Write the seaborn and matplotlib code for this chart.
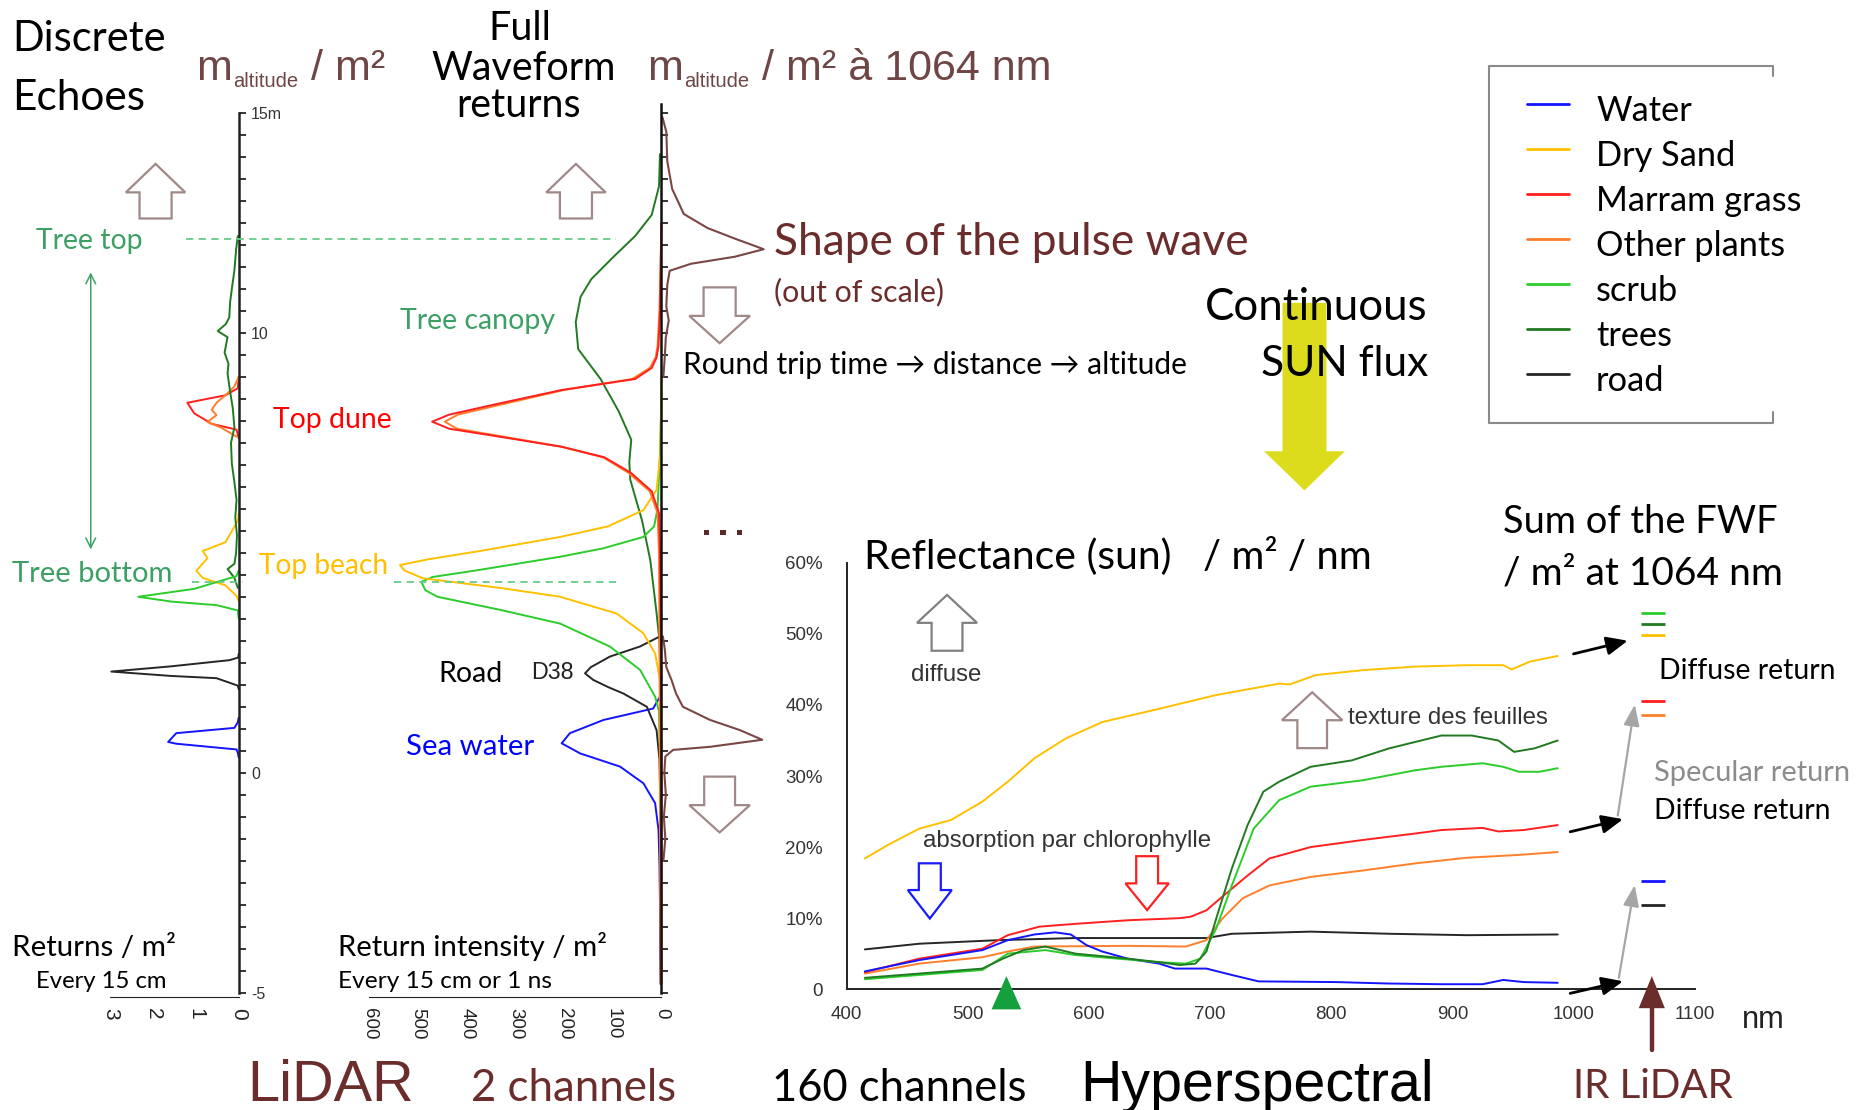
import numpy as np
import matplotlib
matplotlib.use("Agg")
import matplotlib.pyplot as plt
import seaborn as sns
from matplotlib.patches import Polygon, FancyArrowPatch, Rectangle
from matplotlib.lines import Line2D
from matplotlib.ticker import FixedLocator

# ---------------------------------------------------------------- classes
classes = ["Water", "Dry Sand", "Marram grass", "Other plants", "scrub", "trees", "road"]
class_colors = ["#1414ff", "#ffc000", "#ff1f1f", "#ff7f2a", "#2ccc2c", "#217a21", "#262626"]

# ------------------------------------------- discrete echoes (returns / m2)
de_water_alt = [1.25, 1.15, 1.02, 0.9, 0.7, 0.66, 0.53, 0.45, 0.35]
de_water_val = [0.0, 0.02, 0.1, 1.46, 1.65, 1.46, 0.05, 0.02, 0.0]
de_sand_alt = [5.9, 5.73, 5.24, 5.04, 4.88, 4.59, 4.43, 4.26, 4.02, 3.9]
de_sand_val = [0.0, 0.02, 0.31, 0.84, 0.73, 0.99, 0.84, 0.31, 0.05, 0.0]
de_marram_alt = [9.0, 8.74, 8.58, 8.41, 8.17, 7.93, 7.8, 7.6]
de_marram_val = [0.0, 0.02, 0.31, 1.2, 1.04, 0.63, 0.05, 0.0]
de_other_alt = [9.0, 8.78, 8.58, 8.41, 8.25, 8.13, 7.97, 7.85, 7.64]
de_other_val = [0.0, 0.1, 0.31, 0.52, 0.63, 0.52, 0.73, 0.42, 0.05]
de_scrub_alt = [4.6, 4.47, 4.18, 4.0, 3.89, 3.81, 3.69, 3.5]
de_scrub_val = [0.0, 0.05, 1.04, 2.35, 1.57, 0.52, 0.02, 0.0]
de_trees_alt = [12.2, 11.9, 11.42, 11.0, 10.7, 10.35, 10.2, 10.04, 9.9, 9.7, 9.55, 9.3,
                9.07, 8.66, 8.3, 7.85, 7.5, 7.03, 6.6, 6.2, 5.8, 5.4, 5.0, 4.75, 4.63, 4.43, 4.2]
de_trees_val = [0.02, 0.06, 0.1, 0.16, 0.2, 0.22, 0.3, 0.49, 0.26, 0.3, 0.33, 0.24,
                0.26, 0.2, 0.14, 0.1, 0.18, 0.16, 0.1, 0.05, 0.08, 0.04, 0.06, 0.1, 0.26, 0.1, 0.02]
de_road_alt = [2.7, 2.62, 2.56, 2.42, 2.30, 2.2, 2.15, 1.98, 1.9]
de_road_val = [0.0, 0.01, 0.21, 1.57, 2.98, 1.57, 0.52, 0.02, 0.0]

# ------------------------------------- full waveform (intensity / m2)
fw_water_alt = [2.2, 1.73, 1.46, 1.2, 0.9, 0.67, 0.44, 0.14, -0.24, -0.69, -1.3, -2.1, -3.0, -4.0, -4.8]
fw_water_val = [0, 3, 17, 119, 188, 205, 167, 85, 37, 13, 6, 4, 3, 3, 2]
fw_sand_alt = [9.0, 7.26, 6.43, 5.97, 5.6, 5.36, 5.04, 4.85, 4.72, 4.6, 4.42, 4.2, 4.0,
               3.62, 3.17, 2.71, 2.11, 1.0, -4.8]
fw_sand_val = [0, 2, 10, 37, 110, 208, 373, 480, 537, 528, 490, 330, 208, 92, 37, 13, 3, 1, 0]
fw_marram_alt = [12.5, 10.5, 9.7, 9.44, 9.2, 8.95, 8.7, 8.38, 8.14, 7.98, 7.82, 7.65, 7.41,
                 7.17, 6.82, 6.4, 5.9, 5.0, 3.0, 0.0, -4.8]
fw_marram_val = [0, 3, 6, 10, 20, 54, 205, 339, 436, 471, 436, 339, 205, 117, 63, 20, 5, 3, 1, 0, 0]
fw_other_alt = [12.5, 10.5, 9.7, 9.44, 9.2, 8.95, 8.7, 8.38, 8.14, 7.98, 7.82, 7.65, 7.41,
                7.17, 6.82, 6.4, 5.9, 5.0, 3.0, 0.0, -4.8]
fw_other_val = [0, 4, 8, 12, 24, 60, 200, 325, 418, 445, 420, 330, 205, 120, 68, 24, 8, 5, 4, 3, 2]
fw_scrub_alt = [8.5, 7.26, 6.0, 5.6, 5.36, 5.1, 4.91, 4.6, 4.45, 4.34, 4.15, 4.0, 3.7, 3.39,
                2.87, 2.34, 1.73, 1.4, 0.3, -4.8]
fw_scrub_val = [0, 3, 8, 15, 37, 120, 208, 380, 470, 493, 485, 460, 330, 208, 106, 44, 13, 5, 3, 0]
fw_trees_alt = [14.06, 13.33, 12.68, 12.2, 11.71, 11.22, 10.82, 10.25, 9.63, 8.95, 8.22, 7.57,
                7.06, 6.66, 5.74, 4.84, 3.63, 3.0, 2.0, 0.0, -2.5, -4.8]
fw_trees_val = [3, 5, 20, 54, 100, 144, 166, 176, 171, 125, 88, 62, 66, 64, 40, 23, 10, 4, 2, 1, 1, 1]
fw_road_alt = [3.6, 3.1, 2.87, 2.64, 2.4, 2.26, 2.11, 1.95, 1.8, 1.5, 0.97, 0.3, -1.0, -4.8]
fw_road_val = [0, 3, 44, 106, 145, 157, 140, 110, 78, 30, 10, 4, 2, 1]

# emitted pulse shape (out of scale), drawn on the other side of the axis
pulse_top_alt = [14.9, 14.57, 13.9, 13.27, 12.7, 12.38, 12.14, 11.9, 11.73, 11.57, 11.41,
                 11.09, 10.6, 10.28, 9.9, 9.47, 9.0]
pulse_top_val = [-2, -10, -12, -22, -46, -95, -151, -210, -151, -61, -17, -12, -10, -15, -9, -7, -4]
pulse_low_alt = [3.1, 2.8, 2.4, 2.1, 1.8, 1.5, 1.2, 0.97, 0.75, 0.59, 0.52, 0.37, 0.0,
                 -0.5, -1.0, -1.5, -2.0]
pulse_low_val = [-3, -7, -10, -21, -30, -44, -100, -161, -207, -100, -24, -8, -6, -9, -5, -8, -4]

# ------------------------------------------ hyperspectral reflectance (%)
wl_water = [415, 460, 512, 533, 555, 572, 585, 598, 611, 632, 658, 671, 697, 718, 740, 804,
            847, 891, 925, 942, 959, 987]
rf_water = [2.5, 4.1, 5.5, 6.9, 7.7, 8.0, 7.7, 6.2, 5.3, 4.3, 3.6, 2.9, 2.9, 2.0, 1.1, 1.0,
            0.8, 0.7, 0.7, 1.3, 1.0, 0.9]
wl_sand = [415, 434, 460, 486, 512, 533, 555, 581, 611, 654, 705, 757, 766, 787, 826, 869,
           912, 942, 949, 964, 987]
rf_sand = [18.4, 20.3, 22.6, 23.8, 26.4, 29.2, 32.5, 35.3, 37.6, 39.3, 41.4, 43.0, 42.9,
           44.2, 44.9, 45.4, 45.6, 45.6, 45.0, 46.1, 46.9]
wl_marram = [415, 460, 512, 533, 559, 589, 632, 675, 684, 697, 710, 731, 749, 783, 826, 869,
             891, 925, 938, 959, 987]
rf_marram = [2.4, 4.3, 5.7, 7.6, 8.8, 9.2, 9.7, 10.0, 10.2, 11.1, 13.0, 16.0, 18.4, 20.0,
             21.0, 21.9, 22.4, 22.7, 22.2, 22.4, 23.1]
wl_other = [415, 460, 512, 533, 555, 632, 680, 697, 710, 727, 749, 783, 826, 869, 912, 955, 987]
rf_other = [2.2, 3.6, 4.5, 5.3, 6.0, 6.1, 6.0, 6.9, 9.9, 12.8, 14.6, 15.8, 16.7, 17.7, 18.5,
            18.9, 19.3]
wl_scrub = [415, 512, 533, 564, 589, 658, 680, 692, 705, 718, 736, 757, 783, 826, 869, 891,
            925, 942, 955, 972, 987]
rf_scrub = [1.4, 2.7, 5.0, 5.5, 4.8, 3.8, 3.6, 4.3, 8.5, 14.6, 22.6, 26.6, 28.5, 29.4, 30.8,
            31.3, 31.8, 31.3, 30.6, 30.6, 31.1]
wl_trees = [415, 460, 512, 529, 546, 564, 589, 632, 658, 675, 688, 697, 705, 718, 731, 744,
            757, 783, 817, 848, 891, 916, 938, 951, 968, 987]
rf_trees = [1.6, 2.2, 2.9, 4.3, 5.5, 6.0, 5.0, 4.3, 3.8, 3.4, 3.6, 5.3, 9.9, 17.0, 23.1,
            27.8, 29.2, 31.3, 32.2, 33.9, 35.7, 35.7, 35.0, 33.4, 33.9, 35.0]
wl_road = [415, 460, 525, 589, 697, 718, 783, 848, 912, 987]
rf_road = [5.6, 6.4, 6.9, 7.2, 7.2, 7.8, 8.1, 7.8, 7.6, 7.7]

# summed full waveform at 1064 nm, on the reflectance scale
fwf_sum_classes = ["scrub", "trees", "Dry Sand", "Marram grass", "Other plants", "Water", "road"]
fwf_sum_levels = [52.9, 51.4, 49.8, 40.5, 38.6, 15.2, 11.9]

color_of = dict(zip(classes, class_colors))
de_series = [("Water", de_water_val, de_water_alt), ("Dry Sand", de_sand_val, de_sand_alt),
             ("Marram grass", de_marram_val, de_marram_alt), ("Other plants", de_other_val, de_other_alt),
             ("trees", de_trees_val, de_trees_alt), ("scrub", de_scrub_val, de_scrub_alt),
             ("road", de_road_val, de_road_alt)]
fw_series = [("trees", fw_trees_val, fw_trees_alt), ("Water", fw_water_val, fw_water_alt),
             ("road", fw_road_val, fw_road_alt), ("scrub", fw_scrub_val, fw_scrub_alt),
             ("Dry Sand", fw_sand_val, fw_sand_alt), ("Other plants", fw_other_val, fw_other_alt),
             ("Marram grass", fw_marram_val, fw_marram_alt)]
rf_series = [("Dry Sand", wl_sand, rf_sand), ("road", wl_road, rf_road),
             ("Other plants", wl_other, rf_other), ("Marram grass", wl_marram, rf_marram),
             ("Water", wl_water, rf_water), ("scrub", wl_scrub, rf_scrub),
             ("trees", wl_trees, rf_trees)]

# ---------------------------------------------------------------- styling
sns.set_style("white")
CAL = ["Lato", "DejaVu Sans"]
ARI = ["Liberation Sans", "DejaVu Sans"]
plt.rcParams["font.family"] = CAL

BROWN = "#6b2c2c"
BROWN_SOFT = "#6f4646"
GREEN_TXT = "#3ca064"
ARROW_BROWN = "#a08888"

fig = plt.figure(figsize=(18.62, 11.10), dpi=100)
fig.patch.set_facecolor("white")
renderer = fig.canvas.get_renderer()

# layout grid: 1568 units across the figure width
K = 1862 / 1568
FW, FH = 1862, 1110


def fx(x):
    return x * K / FW


def fy(y):
    return 1 - y * K / FH


def panel(x0, x1, y0, y1):
    ax = fig.add_axes([fx(x0), fy(y1), (x1 - x0) * K / FW, (y1 - y0) * K / FH])
    ax.set_facecolor("none")
    return ax


def label(s, x0, x1, yc, color="black", fam=CAL, size=None, **kw):
    t = fig.text(fx(x0), fy(yc), s, color=color, family=fam, fontsize=size or 20,
                 ha="left", va="baseline", **kw)
    if size is None:
        w = t.get_window_extent(renderer).width
        size = 20 * (x1 - x0) * K / w
        t.set_fontsize(size)
    em = size * 100 / 72 / K
    t.set_y(fy(yc + 0.36 * em))
    return t


def block_arrow(cx, top, bot, head_w, shaft_w, head_h, color, up=True, lw=1.6,
                fill=False):
    if up:
        pts = [(cx, top), (cx + head_w / 2, top + head_h), (cx + shaft_w / 2, top + head_h),
               (cx + shaft_w / 2, bot), (cx - shaft_w / 2, bot),
               (cx - shaft_w / 2, top + head_h), (cx - head_w / 2, top + head_h)]
    else:
        pts = [(cx, bot), (cx + head_w / 2, bot - head_h), (cx + shaft_w / 2, bot - head_h),
               (cx + shaft_w / 2, top), (cx - shaft_w / 2, top),
               (cx - shaft_w / 2, bot - head_h), (cx - head_w / 2, bot - head_h)]
    fig.add_artist(Polygon([(fx(x), fy(y)) for x, y in pts], closed=True,
                           facecolor=color if fill else "white",
                           edgecolor="none" if fill else color, lw=lw))


def fline(xs, ys, **kw):
    fig.add_artist(Line2D([fx(x) for x in xs], [fy(y) for y in ys], **kw))


def farrow(x0, y0, x1, y1, **kw):
    fig.add_artist(FancyArrowPatch((fx(x0), fy(y0)), (fx(x1), fy(y1)), **kw))


def rotated_tick_labels(ax, values, size):
    ax.set_xticks(values)
    ax.set_xticklabels([f"{v:g}" for v in values], rotation=-90, family=ARI,
                       fontsize=size, color="#222222")


# altitude axes share one vertical scale (-5.2 .. 15.3 m)
ALT_TOP, ALT_BOT = 83.9, 843.4
LW = 1.4

# ------------------------------------------------------ discrete echoes
ax_de = panel(93, 201, ALT_TOP, ALT_BOT)
for name, val, alt in de_series:
    sns.lineplot(x=val, y=alt, sort=False, estimator=None, color=color_of[name],
                 lw=LW, ax=ax_de)
ax_de.set_xlim(3, 0)
ax_de.set_ylim(-5.2, 15.3)
ax_de.set_xlabel("")
ax_de.set_ylabel("")
for s in ["top", "left"]:
    ax_de.spines[s].set_visible(False)
ax_de.spines["right"].set_bounds(-5, 15)
ax_de.spines["right"].set_linewidth(1.8)
ax_de.spines["right"].set_color("#222222")
ax_de.spines["bottom"].set_position(("data", -5.1))
ax_de.spines["bottom"].set_bounds(0, 3)
ax_de.spines["bottom"].set_color("#222222")
ax_de.yaxis.tick_right()
ax_de.set_yticks([-5, 0, 5, 10, 15])
ax_de.set_yticklabels(["-5", "0", "", "10", "15m"], family=ARI)
ax_de.yaxis.set_minor_locator(FixedLocator(np.arange(-5, 15.01, 0.5)))
ax_de.tick_params(axis="y", which="both", direction="out", length=5, width=1.3,
                  labelsize=11.5, pad=4, labelcolor="#333333")
ax_de.xaxis.set_minor_locator(FixedLocator(np.arange(0, 3.01, 0.5)))
ax_de.tick_params(axis="x", which="both", direction="out", length=5, width=1.2, pad=3)
rotated_tick_labels(ax_de, [0, 1, 2, 3], 15)

# ------------------------------------------------------ full waveform
ax_fw = panel(311, 645.15, ALT_TOP, ALT_BOT)
for name, val, alt in fw_series:
    sns.lineplot(x=val, y=alt, sort=False, estimator=None, color=color_of[name],
                 lw=LW, ax=ax_fw)
for val, alt in [(pulse_top_val, pulse_top_alt), (pulse_low_val, pulse_low_alt)]:
    sns.lineplot(x=val, y=alt, sort=False, estimator=None, color="#7a4646",
                 lw=1.5, ax=ax_fw)
ax_fw.set_xlim(600, -215)
ax_fw.set_ylim(-5.2, 15.3)
ax_fw.set_xlabel("")
ax_fw.set_ylabel("")
for s in ["top", "left"]:
    ax_fw.spines[s].set_visible(False)
ax_fw.spines["right"].set_position(("data", 0))
ax_fw.spines["right"].set_bounds(-5, 15.2)
ax_fw.spines["right"].set_linewidth(1.8)
ax_fw.spines["right"].set_color("#111111")
ax_fw.spines["bottom"].set_position(("data", -5.1))
ax_fw.spines["bottom"].set_bounds(0, 600)
ax_fw.spines["bottom"].set_color("#222222")
ax_fw.yaxis.tick_right()
ax_fw.yaxis.set_major_locator(FixedLocator(np.arange(-5, 15.01, 0.5)))
ax_fw.tick_params(axis="y", which="both", direction="out", length=5, width=1.3,
                  labelright=False)
ax_fw.xaxis.set_minor_locator(FixedLocator(np.arange(0, 601, 20)))
ax_fw.tick_params(axis="x", which="both", direction="out", length=5, width=1.2, pad=3)
rotated_tick_labels(ax_fw, list(range(0, 601, 100)), 13.5)

# ------------------------------------------------------ reflectance
ax_rf = panel(713, 1427, 474, 833)
for name, wl, rf in rf_series:
    sns.lineplot(x=wl, y=rf, sort=False, estimator=None, color=color_of[name],
                 lw=LW, ax=ax_rf)
ax_rf.set_xlim(400, 1100)
ax_rf.set_ylim(0, 60)
ax_rf.set_xlabel("")
ax_rf.set_ylabel("")
for s in ["top", "right"]:
    ax_rf.spines[s].set_visible(False)
for s in ["left", "bottom"]:
    ax_rf.spines[s].set_color("#222222")
    ax_rf.spines[s].set_linewidth(1.4)
ax_rf.set_yticks(np.arange(0, 61, 10))
ax_rf.set_yticklabels(["0"] + [f"{v}%" for v in range(10, 61, 10)], family=ARI)
ax_rf.yaxis.set_minor_locator(FixedLocator(np.arange(0, 61, 2)))
ax_rf.set_xticks(np.arange(400, 1101, 100))
ax_rf.set_xticklabels([str(v) for v in range(400, 1101, 100)], family=ARI)
ax_rf.xaxis.set_minor_locator(FixedLocator(np.arange(400, 1101, 20)))
ax_rf.tick_params(axis="y", which="both", direction="out", length=5, width=1.2,
                  labelsize=13.5, pad=12, labelcolor="#333333")
ax_rf.tick_params(axis="x", which="both", direction="out", length=5, width=1.2,
                  labelsize=13.5, pad=7, labelcolor="#333333")
ax_rf.hlines(fwf_sum_levels, 1056, 1076, colors=[color_of[c] for c in fwf_sum_classes],
             lw=2, clip_on=False)

# ------------------------------------------------------ titles and notes
label("Discrete", 10, 140, 30)
label("Echoes", 10, 122, 80)
wave = label("Waveform", 363.6, 519.5, 55.4)
title_size = wave.get_fontsize()
label("Full", 411, 465, 22, size=title_size)
label("returns", 384.6, 498, 86.5, size=title_size)

for x_m, x_sub, x_rest, rest in [(165, 196, 262, "/ m²"), (545, 576, 642, "/ m² à 1064 nm")]:
    fig.text(fx(x_m), fy(67), "m", family=ARI, fontsize=31, color=BROWN_SOFT, va="baseline")
    fig.text(fx(x_sub), fy(73), "altitude", family=ARI, fontsize=14.5, color=BROWN_SOFT,
             va="baseline")
    fig.text(fx(x_rest), fy(67), rest, family=ARI, fontsize=31, color=BROWN_SOFT,
             va="baseline")

label("Tree top", 30, 120, 201, GREEN_TXT)
label("Tree bottom", 10, 145, 481, GREEN_TXT)
label("Top dune", 230, 330, 352, "#ff0000")
label("Tree canopy", 337, 468, 268, GREEN_TXT)
label("Top beach", 218, 327, 475, "#ffc000")
label("Road", 369, 423, 566)
label("D38", 447, 483, 565, "#222222", ARI)
label("Sea water", 342, 450, 627, "#0000ff")
label("Returns / m²", 10, 148, 796)
label("Every 15 cm", 30, 140, 825)
label("Return intensity / m²", 285, 512, 796)
label("Every 15 cm or 1 ns", 285, 465, 825)
label("LiDAR", 208, 348, 910, BROWN, ARI)
label("2 channels", 397, 570, 914, BROWN)
label("160 channels", 650, 865, 914)
label("Hyperspectral", 910, 1207, 910, "black", ARI)
label("IR LiDAR", 1325, 1460, 912, BROWN)
label("Shape of the pulse wave", 652, 1052, 201, BROWN)
label("(out of scale)", 652, 795, 245, BROWN)
label("Round trip time → distance → altitude", 575, 1000, 306)
label("Continuous", 1015, 1203, 256, zorder=5)
label("SUN flux", 1062, 1203, 304, zorder=5)
label("Reflectance (sun)", 728, 988, 467)
label("/ m² / nm", 1013, 1155, 467)
label("Sum of the FWF", 1266, 1497, 437)
label("/ m² at 1064 nm", 1266, 1502, 480)
label("diffuse", 767, 826, 566, "#333333", ARI)
label("texture des feuilles", 1135, 1303, 602, "#333333", ARI)
label("absorption par chlorophylle", 777, 1019, 706, "#333333", ARI)
label("Diffuse return", 1397, 1546, 563)
label("Specular return", 1393, 1559, 649, "#8c8c8c")
label("Diffuse return", 1393, 1542, 681)
label("nm", 1467, 1503, 856, "#222222", ARI)

# ellipsis between the lidar and hyperspectral blocks
for xd in [595, 609, 622.6]:
    fig.add_artist(Rectangle((fx(xd - 2.3), fy(448.3 + 2.3)), 4.6 * K / FW, 4.6 * K / FH,
                             facecolor="#5a2a2a", edgecolor="none"))

# tree top / tree bottom guides
fline([157, 519], [201, 201], color="#66cc88", lw=1.3, ls=(0, (4, 3)))
fline([162, 205], [490, 490], color="#66cc88", lw=1.3, ls=(0, (4, 3)))
fline([332, 519], [490, 490], color="#66cc88", lw=1.3, ls=(0, (4, 3)))
farrow(76.4, 465, 76.4, 227, arrowstyle="<->,head_length=0.7,head_width=0.35",
       mutation_scale=10, lw=1.1, color=GREEN_TXT)

# hollow block arrows
block_arrow(131, 138, 184, 50, 27, 24, ARROW_BROWN, up=True)
block_arrow(485, 138, 184, 50, 27, 24, ARROW_BROWN, up=True)
block_arrow(606, 242, 289, 51, 27, 23, ARROW_BROWN, up=False)
block_arrow(606, 654, 701, 51, 26, 23, ARROW_BROWN, up=False)
block_arrow(797.5, 501, 548, 50.5, 26, 23.5, "#808080", up=True)
block_arrow(1105, 583, 630, 51, 25, 23.5, ARROW_BROWN, up=True)
block_arrow(783, 727, 773.5, 37, 18.5, 24, "#1a1aff", up=False)
block_arrow(966, 721, 766.4, 36.5, 18.4, 22.5, "#ff2020", up=False)

# incoming sun flux
block_arrow(1098.5, 255, 413, 68, 37, 33, "#dcdc1c", up=False, fill=True)

# 531 nm marker and 1064 nm laser line
fig.add_artist(Polygon([(fx(835), fy(850)), (fx(860), fy(850)), (fx(847.5), fy(822))],
                       closed=True, facecolor="#14a03c", edgecolor="none"))
fline([1391, 1391], [884, 845], color=BROWN, lw=3.2)
fig.add_artist(Polygon([(fx(1380), fy(849)), (fx(1402), fy(849)), (fx(1391), fy(822))],
                       closed=True, facecolor=BROWN, edgecolor="none"))

# reflectance -> summed waveform arrows
for (x0, y0, x1, y1) in [(1322.8, 551.2, 1373, 539), (1320, 701, 1369, 689.3),
                         (1320, 837, 1369, 825.8)]:
    farrow(x0, y0, x1, y1, arrowstyle="-|>,head_length=0.8,head_width=0.35",
           mutation_scale=16, lw=2, color="black")
for (x0, y0, x1, y1) in [(1362, 689, 1377, 591), (1362.8, 825.8, 1377, 743)]:
    farrow(x0, y0, x1, y1, arrowstyle="-|>,head_length=0.8,head_width=0.3",
           mutation_scale=16, lw=1.6, color="#a6a6a6")

# legend panel: open frame with short end marks on the right
box_col = "#8a8a8a"
fline([1493, 1493, 1254, 1254, 1493, 1493], [64, 55.3, 55.3, 356, 356, 347],
      color=box_col, lw=1.5)
leg_size = None
for i, (name, col) in enumerate(zip(classes, class_colors)):
    yc = 91.2 + i * 37.9
    fline([1285.6, 1321.3], [yc - 3.5, yc - 3.5], color=col, lw=2)
    if leg_size is None:
        probe = label("Marram grass", 1344, 1517, yc)
        leg_size = probe.get_fontsize()
        probe.remove()
    label(name, 1344, 1517, yc, size=leg_size)

fig.savefig("out.png", dpi=100, facecolor="white")
